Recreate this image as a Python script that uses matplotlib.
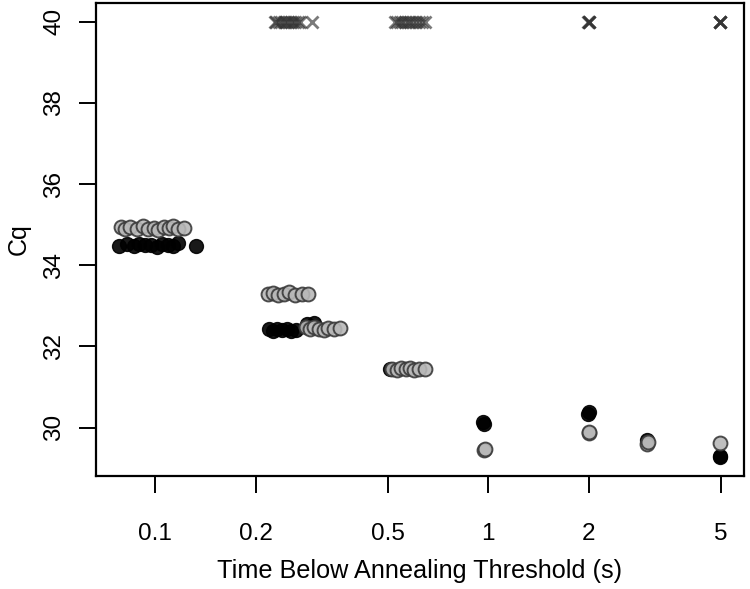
import matplotlib
matplotlib.use("Agg")
import matplotlib.pyplot as plt

plt.rcParams['font.family'] = ['Liberation Sans', 'DejaVu Sans']

# ---------- Data ----------
black_x = [0.078, 0.082, 0.086, 0.089, 0.093, 0.097, 0.101, 0.105, 0.109, 0.113, 0.117, 0.132,
           0.219, 0.225, 0.232, 0.240, 0.248, 0.256, 0.265,
           0.286, 0.293, 0.299,
           0.505,
           0.963, 0.970,
           1.99, 2.00,
           3.00,
           4.97, 4.98]
black_y = [34.48, 34.52, 34.47, 34.53, 34.49, 34.51, 34.46, 34.52, 34.50, 34.48, 34.54, 34.47,
           32.42, 32.39, 32.44, 32.40, 32.43, 32.38, 32.41,
           32.55, 32.50, 32.57,
           31.45,
           30.13, 30.08,
           30.33, 30.38,
           29.70,
           29.27, 29.31]

grey_x = [0.079, 0.081, 0.084, 0.088, 0.092, 0.095, 0.099, 0.102, 0.106, 0.110, 0.113, 0.117, 0.122,
          0.218, 0.226, 0.234, 0.243, 0.252, 0.262, 0.275, 0.288,
          0.283, 0.292, 0.300, 0.310, 0.320, 0.331, 0.345, 0.358,
          0.515, 0.530, 0.548, 0.565, 0.583, 0.600, 0.620, 0.645,
          0.970, 0.978,
          2.00, 2.01,
          2.99, 3.01,
          4.97]
grey_y = [34.95, 34.88, 34.93, 34.90, 34.96, 34.89, 34.92, 34.87, 34.94, 34.91, 34.97, 34.89, 34.92,
          33.28, 33.31, 33.26, 33.30, 33.33, 33.27, 33.29, 33.30,
          32.47, 32.42, 32.49, 32.44, 32.40, 32.46, 32.43, 32.45,
          31.45, 31.42, 31.47, 31.44, 31.46, 31.43, 31.45, 31.44,
          29.44, 29.47,
          29.86, 29.90,
          29.60, 29.64,
          29.62]

fail_x = [0.228, 0.231, 0.235, 0.239, 0.243, 0.247, 0.251, 0.255, 0.259, 0.263, 0.268, 0.272, 0.296,
          0.524, 0.533, 0.542, 0.552, 0.562, 0.572, 0.583, 0.595, 0.607, 0.620, 0.632, 0.644,
          2.00, 2.00, 2.01, 1.99,
          4.97, 4.98, 4.96, 4.97]
fail_y = [40.0] * len(fail_x)

x_ticks = [0.1, 0.2, 0.5, 1, 2, 5]
x_tick_labels = ["0.1", "0.2", "0.5", "1", "2", "5"]
y_ticks = [30, 32, 34, 36, 38, 40]

# ---------- Plot ----------
fig = plt.figure(figsize=(7.5, 5.89), dpi=100)
ax = fig.add_axes([0.128, 0.192, 0.864, 0.803])

ax.scatter(fail_x, fail_y, marker='x', s=75, color='#333333', alpha=0.65, linewidths=2.0, zorder=2)
ax.scatter(black_x, black_y, s=100, facecolor='black', edgecolor='black', linewidths=1.0, alpha=0.9, zorder=3)
ax.scatter(grey_x, grey_y, s=100, facecolor='#b8b8b8', edgecolor='#3a3a3a', linewidths=1.4, alpha=0.9, zorder=4)

ax.set_xscale('log')
ax.set_xlim(0.0663, 5.86)
ax.set_ylim(28.81, 40.46)
ax.set_xticks(x_ticks)
ax.set_xticklabels(x_tick_labels)
ax.minorticks_off()
ax.set_yticks(y_ticks)
ax.set_yticklabels([str(v) for v in y_ticks], rotation=90, va='center')

for s in ax.spines.values():
    s.set_linewidth(1.6)
ax.tick_params(axis='both', length=12, width=1.4, labelsize=17.5)
ax.tick_params(axis='x', pad=22)
ax.tick_params(axis='y', pad=10)

ax.set_xlabel("Time Below Annealing Threshold (s)", fontsize=18.2, labelpad=10)
ax.set_ylabel("Cq", fontsize=18, labelpad=9)

fig.savefig("out.png", dpi=100)
